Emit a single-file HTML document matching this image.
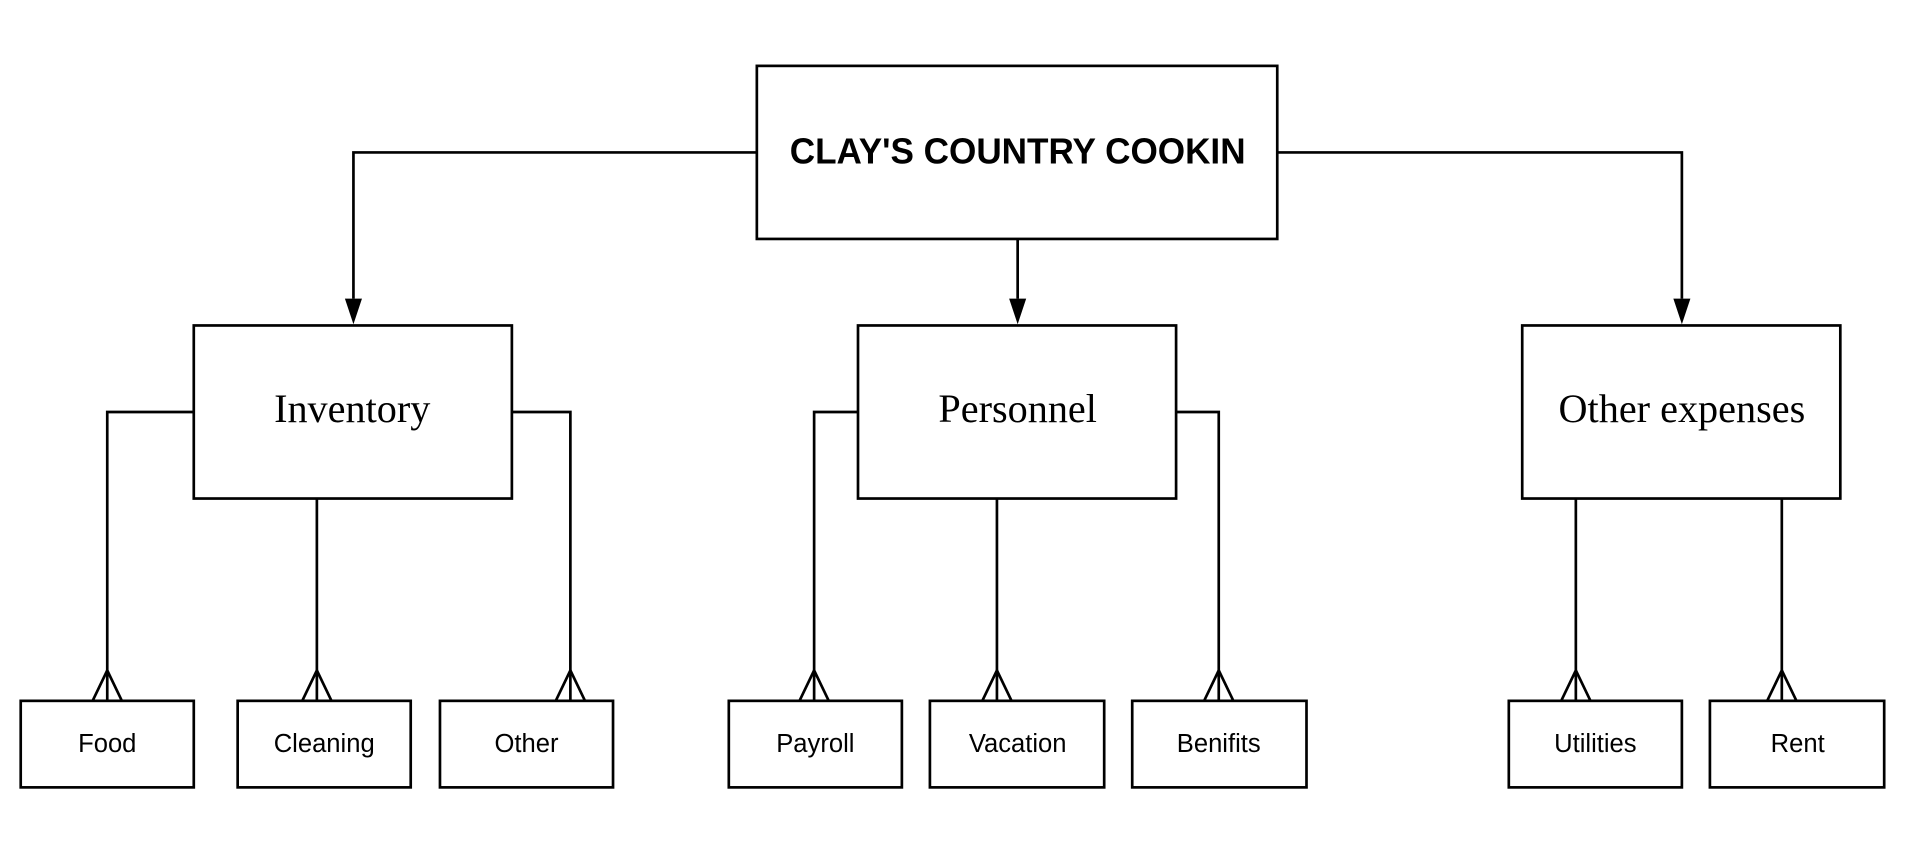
<!DOCTYPE html>
<html><head><meta charset="utf-8"><style>html,body{margin:0;padding:0;background:#fff;width:1911px;height:863px;overflow:hidden}</style></head>
<body>
<svg width="1911" height="863" viewBox="0 0 1568 708" xmlns="http://www.w3.org/2000/svg">
<g fill="none" stroke="#000" stroke-width="2.2">
<rect x="621" y="54" width="427" height="142" fill="#fff"/>
<rect x="159" y="267" width="261" height="142"/>
<rect x="704" y="267" width="261" height="142"/>
<rect x="1249" y="267" width="261" height="142"/>
<rect x="17" y="575" width="142" height="71"/>
<rect x="195" y="575" width="142" height="71"/>
<rect x="361" y="575" width="142" height="71"/>
<rect x="598" y="575" width="142" height="71"/>
<rect x="763" y="575" width="143" height="71"/>
<rect x="929" y="575" width="143" height="71"/>
<rect x="1238" y="575" width="142" height="71"/>
<rect x="1403" y="575" width="143" height="71"/>
<path d="M621,125 H290 V245"/>
<path d="M1048,125 H1380 V245"/>
<path d="M835,196 V245"/>
<path d="M159,338 H88 V575"/>
<path d="M260,409 V575"/>
<path d="M420,338 H468 V575"/>
<path d="M704,338 H668 V575"/>
<path d="M818,409 V575"/>
<path d="M965,338 H1000 V575"/>
<path d="M1293,409 V575"/>
<path d="M1462,409 V575"/>
<path d="M76,575 L88,550 L100,575 M248,575 L260,550 L272,575 M456,575 L468,550 L480,575 M656,575 L668,550 L680,575 M806,575 L818,550 L830,575 M988,575 L1000,550 L1012,575 M1281,575 L1293,550 L1305,575 M1450,575 L1462,550 L1474,575"/>
</g>
<g fill="#000">
<path d="M283,245 L297,245 L290,266 z"/>
<path d="M828,245 L842,245 L835,266 z"/>
<path d="M1373,245 L1387,245 L1380,266 z"/>
</g>
<text x="648" y="134" font-family="Liberation Sans Narrow, Liberation Sans, sans-serif" font-weight="bold" font-size="30" textLength="374" lengthAdjust="spacingAndGlyphs">CLAY'S COUNTRY COOKIN</text>
<g font-family="Liberation Serif, serif" font-size="33" text-anchor="middle">
<text x="289" y="346">Inventory</text>
<text x="835" y="346">Personnel</text>
<text x="1380" y="346">Other expenses</text>
</g>
<g font-family="Liberation Sans, sans-serif" font-size="21" text-anchor="middle">
<text x="88" y="617">Food</text>
<text x="266" y="617">Cleaning</text>
<text x="432" y="617">Other</text>
<text x="669" y="617">Payroll</text>
<text x="835" y="617">Vacation</text>
<text x="1000" y="617">Benifits</text>
<text x="1309" y="617">Utilities</text>
<text x="1475" y="617">Rent</text>
</g>
</svg>
</body></html>
